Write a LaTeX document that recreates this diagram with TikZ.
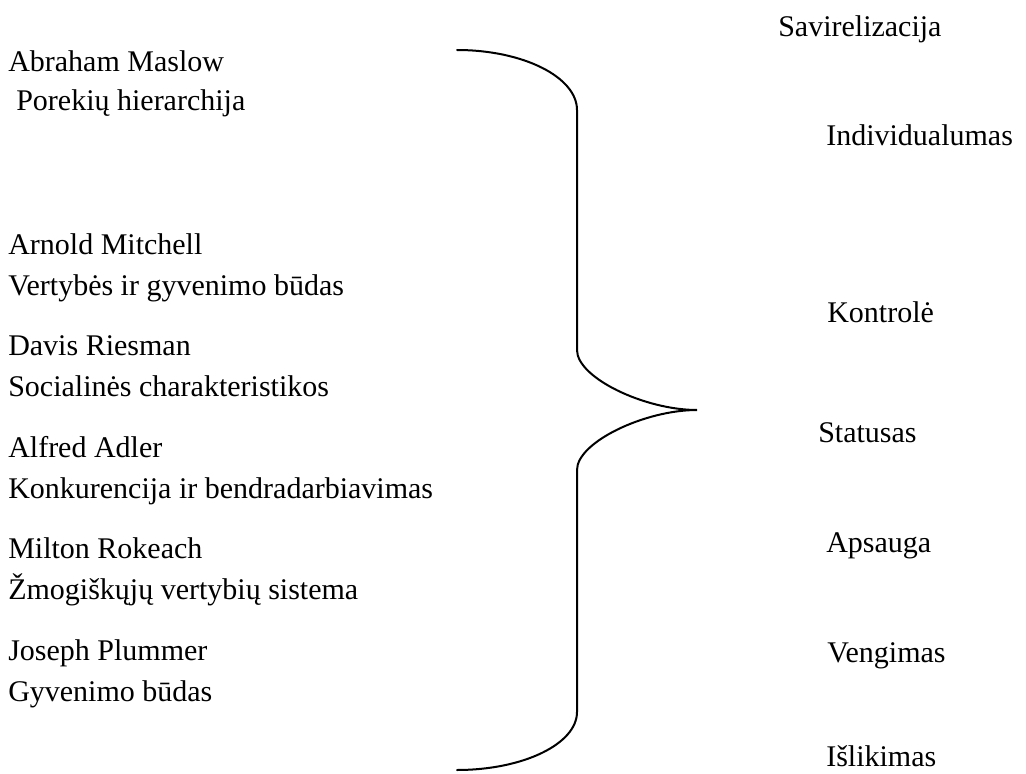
\documentclass[tikz,border=0pt]{standalone}
\usepackage{fontspec}
\setmainfont{Liberation Serif}
\usetikzlibrary{positioning}

\begin{document}
\begin{tikzpicture}[x=0.75pt, y=-0.75pt,
        item/.style={anchor=base west, inner sep=0pt, font=\fontsize{22.5}{27}\selectfont},
        brace/.style={line width=1.5pt, line cap=round}]
        \useasboundingbox (0,0) rectangle (1026,774);

        % Authors and their theories
        \node[item] (maslow) at (8,72) {Abraham Maslow};
        \node[item] (maslowtxt) at (16,111) {Porekių hierarchija};
        \foreach \y/\nm/\who/\what in {254/mitchell/Arnold Mitchell/Vertybės ir gyvenimo būdas,
                355/riesman/Davis Riesman/Socialinės charakteristikos,
                457/adler/Alfred Adler/Konkurencija ir bendradarbiavimas,
                558/rokeach/Milton Rokeach/Žmogiškųjų vertybių sistema,
                660/plummer/Joseph Plummer/Gyvenimo būdas} {
            \node[item] (\nm) at (8,\y) {\who};
            \node[item] (\nm txt) at (8,\y+41) {\what};
        }

        % Needs (right)
        \foreach \x/\y/\nm/\label in {778/37/savi/Savirelizacija, 826/146/indiv/Individualumas,
                827/322/kontr/Kontrolė, 818/442/stat/Statusas, 826/552/aps/Apsauga,
                827/662/veng/Vengimas, 826/766/isl/Išlikimas} {
            \node[item] (\nm) at (\x,\y) {\label};
        }

        % Brace
        \coordinate (btop) at (457,50);
        \coordinate (tip) at (697,410);
        \coordinate (bbot) at (457,770);
        \draw[brace] (btop) .. controls (523,50) and (577,77) .. (577,110) -- (577,350)
            .. controls (577,378) and (645,410) .. (tip)
            .. controls (645,410) and (577,442) .. (577,470) -- (577,712)
            .. controls (577,744) and (523,770) .. (bbot);

    \end{tikzpicture}
\end{document}
